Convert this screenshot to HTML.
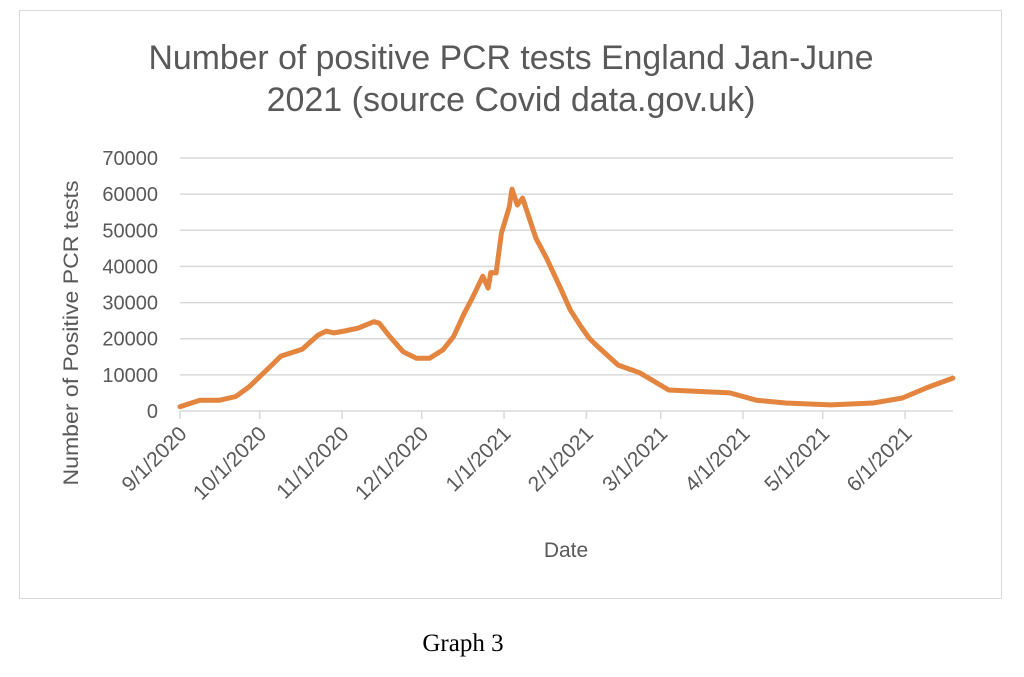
<!DOCTYPE html>
<html><head><meta charset="utf-8"><style>
body{margin:0;background:#fff;width:1024px;height:677px;overflow:hidden;font-family:"Liberation Sans",sans-serif}
#frame{position:absolute;left:19px;top:10px;width:983px;height:589px;border:1px solid #d9d9d9;box-sizing:border-box}
#cap{position:absolute;left:0;width:926px;top:630px;text-align:center;font-family:"Liberation Serif",serif;font-size:25px;color:#000}
</style></head><body>
<div id="frame"></div>
<svg id="chart" width="1024" height="677" style="position:absolute;left:0;top:0" font-family="Liberation Sans, sans-serif" fill="#595959"></svg>
<div id="cap">Graph 3</div>
<script>
const dayOffsets=[0,7.5,15,21,26,34,38,46,52,55,58,61,67,73,75,79,84,89,94,99,103,107,110,114,116,117,119,121,124,125,127,129,134,138,143,147,151,154,157,165,173,184,207,217,228,245,261,272,281,291];
const positives=[1200,3000,3000,4000,6700,12300,15200,17100,21000,22100,21600,22000,22900,24700,24300,20600,16400,14600,14600,16900,20600,27000,31200,37300,34000,38300,38200,49200,56500,61400,57000,58900,47800,42300,34400,27900,23300,20200,18000,12700,10600,5800,5000,3000,2200,1700,2200,3600,6400,9100];
const yTicks=[0,10000,20000,30000,40000,50000,60000,70000];
const xTickLabels=["9/1/2020","10/1/2020","11/1/2020","12/1/2020","1/1/2021","2/1/2021","3/1/2021","4/1/2021","5/1/2021","6/1/2021"];
const xTickDays=[0,30,61,91,122,153,181,212,242,273];
const NS="http://www.w3.org/2000/svg";
const svg=document.getElementById('chart');
const X0=180,X1=953,Y0=411,Y1=158;
const xs=d=>X0+d*2.656;
const ys=v=>Y0-(v/70000)*(Y0-Y1);
function mk(t,a){const e=document.createElementNS(NS,t);for(const k in a)e.setAttribute(k,a[k]);svg.appendChild(e);return e;}
let t=mk('text',{x:511,y:69,'text-anchor':'middle','font-size':34,textLength:725,lengthAdjust:'spacingAndGlyphs'});
t.textContent='Number of positive PCR tests England Jan-June';


t=mk('text',{x:511,y:111,'text-anchor':'middle','font-size':34});
t.textContent='2021 (source Covid data.gov.uk)';


yTicks.forEach(v=>{
 const y=ys(v);
 const g=mk('line',{x1:X0,x2:X1,y1:y,y2:y,stroke:'#d9d9d9','stroke-width':1.5});
 
 
 const l=mk('text',{x:158,y:y+7,'text-anchor':'end','font-size':20});
 l.textContent=v;
 
 
});
xTickDays.forEach((d,i)=>{
 const x=xs(d);
 const tk=mk('line',{x1:x,x2:x,y1:Y0,y2:Y0+8,stroke:'#d9d9d9','stroke-width':1.5});
 
 
 const l=mk('text',{x:x+8,y:Y0+24,'text-anchor':'end','font-size':21,transform:`rotate(-45 ${x+8} ${Y0+24})`});
 l.textContent=xTickLabels[i];
 
 
});
const pts=dayOffsets.map((d,i)=>xs(d).toFixed(1)+','+ys(positives[i]).toFixed(1)).join(' ');
const line=mk('polyline',{points:pts,fill:'none',stroke:'#e3843f','stroke-width':5,'stroke-linejoin':'round','stroke-linecap':'round'});


t=mk('text',{x:566,y:557,'text-anchor':'middle','font-size':21});
t.textContent='Date';


t=mk('text',{x:78,y:333,'text-anchor':'middle','font-size':21,transform:'rotate(-90 78 333)',textLength:305,lengthAdjust:'spacingAndGlyphs'});
t.textContent='Number of Positive PCR tests';


</script>
</body></html>
